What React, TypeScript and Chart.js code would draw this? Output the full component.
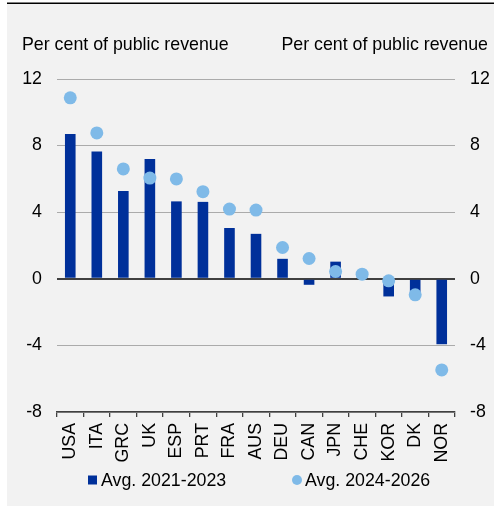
import React, { useEffect, useRef } from "react";
import { Chart, registerables } from "chart.js";

Chart.register(...registerables);

const categories = ["USA", "ITA", "GRC", "UK", "ESP", "PRT", "FRA", "AUS", "DEU", "CAN", "JPN", "CHE", "KOR", "DK", "NOR"];
const avg2021_2023 = [8.7, 7.65, 5.27, 7.2, 4.65, 4.62, 3.05, 2.7, 1.2, -0.36, 1.03, 0.1, -1.06, -0.9, -3.93];
const avg2024_2026 = [10.87, 8.76, 6.6, 6.05, 6.0, 5.23, 4.19, 4.13, 1.88, 1.22, 0.44, 0.28, -0.12, -0.96, -5.47];
const yTicks = [-8, -4, 0, 4, 8, 12];
const axisTitle = "Per cent of public revenue";
const seriesNames = ["Avg. 2021-2023", "Avg. 2024-2026"];

const BAR = "#00309A";
const DOT = "#7FBAE8";
const FONT_FAMILY = '"Liberation Sans", Arial, sans-serif';
const FS = 17.8;

export default function App() {
  const ref = useRef<HTMLCanvasElement | null>(null);

  useEffect(() => {
    document.body.style.margin = "0";
    const canvas = ref.current;
    if (!canvas) return;

    const decor = {
      id: "decor",
      beforeDraw(chart: any) {
        const ctx = chart.ctx;
        ctx.save();
        ctx.fillStyle = "#f2f2f2";
        ctx.fillRect(7, 3, 487, 503);
        ctx.fillStyle = "#000";
        ctx.fillRect(7, 2.5, 487, 1.5);
        ctx.restore();
      },
      afterDraw(chart: any) {
        const ctx = chart.ctx;
        const area = chart.chartArea;
        ctx.save();
        ctx.font = `${FS}px ${FONT_FAMILY}`;
        ctx.fillStyle = "#000";
        ctx.textBaseline = "alphabetic";
        ctx.textAlign = "left";
        ctx.fillText(axisTitle, 22, 50);
        ctx.textAlign = "right";
        ctx.fillText(axisTitle, 488, 50);

        // legend
        const ly = area.bottom + 68;
        ctx.textAlign = "left";
        ctx.fillStyle = BAR;
        ctx.fillRect(88, ly - 4.5, 9, 9);
        ctx.fillStyle = "#000";
        ctx.fillText(seriesNames[0], 101, ly + 6);
        ctx.fillStyle = DOT;
        ctx.beginPath();
        ctx.arc(297, ly, 5, 0, Math.PI * 2);
        ctx.fill();
        ctx.fillStyle = "#000";
        ctx.fillText(seriesNames[1], 305, ly + 6);
        ctx.restore();
      },
    };

    const tickFont = { family: FONT_FAMILY, size: FS };

    const chart = new Chart(canvas, {
      type: "bar",
      data: {
        labels: categories,
        datasets: [
          {
            type: "line",
            label: seriesNames[1],
            data: avg2024_2026,
            showLine: false,
            pointRadius: 6.5,
            pointHoverRadius: 6.5,
            pointBackgroundColor: DOT,
            pointBorderColor: DOT,
            pointBorderWidth: 0,
            backgroundColor: DOT,
            borderColor: DOT,
            yAxisID: "y",
            order: 0,
          } as any,
          {
            type: "bar",
            label: seriesNames[0],
            data: avg2021_2023,
            backgroundColor: BAR,
            borderWidth: 0,
            barPercentage: 0.4,
            categoryPercentage: 1,
            yAxisID: "y",
            order: 1,
          } as any,
        ],
      },
      options: {
        responsive: false,
        animation: false,
        devicePixelRatio: 1,
        layout: { padding: { top: 79, left: 0, right: 0, bottom: 0 } },
        plugins: {
          legend: { display: false },
          tooltip: { enabled: false },
          title: { display: false },
        },
        scales: {
          x: {
            offset: true,
            grid: {
              offset: true,
              drawOnChartArea: false,
              drawTicks: true,
              tickLength: 5,
              color: "#404040",
              lineWidth: 1.3,
            },
            border: { display: true, color: "#404040", width: 1.5 },
            ticks: {
              minRotation: 90,
              maxRotation: 90,
              autoSkip: false,
              padding: 6,
              color: "#000",
              font: tickFont,
            },
            afterFit: (s: any) => {
              s.height = 94;
            },
          },
          y: {
            position: "left",
            min: -8,
            max: 12,
            afterBuildTicks: (s: any) => {
              s.ticks = yTicks.map((v) => ({ value: v }));
            },
            ticks: { color: "#000", font: tickFont, padding: 15 },
            grid: {
              drawTicks: false,
              color: (c: any) => (c.tick && c.tick.value === 0 ? "#404040" : "#ababab"),
              lineWidth: (c: any) => (c.tick && c.tick.value === 0 ? 2 : 1),
            },
            border: { display: false },
            afterFit: (s: any) => {
              s.width = 57;
            },
          },
          y2: {
            position: "right",
            min: -8,
            max: 12,
            afterBuildTicks: (s: any) => {
              s.ticks = yTicks.map((v) => ({ value: v }));
            },
            ticks: { color: "#000", font: tickFont, padding: 15 },
            grid: { display: false, drawTicks: false },
            border: { display: false },
            afterFit: (s: any) => {
              s.width = 39;
            },
          },
        },
      } as any,
      plugins: [decor],
    });

    return () => chart.destroy();
  }, []);

  return (
    <div style={{ position: "relative", width: 494, height: 506 }}>
      <canvas ref={ref} width={494} height={506} style={{ display: "block", width: 494, height: 506 }} />
    </div>
  );
}
